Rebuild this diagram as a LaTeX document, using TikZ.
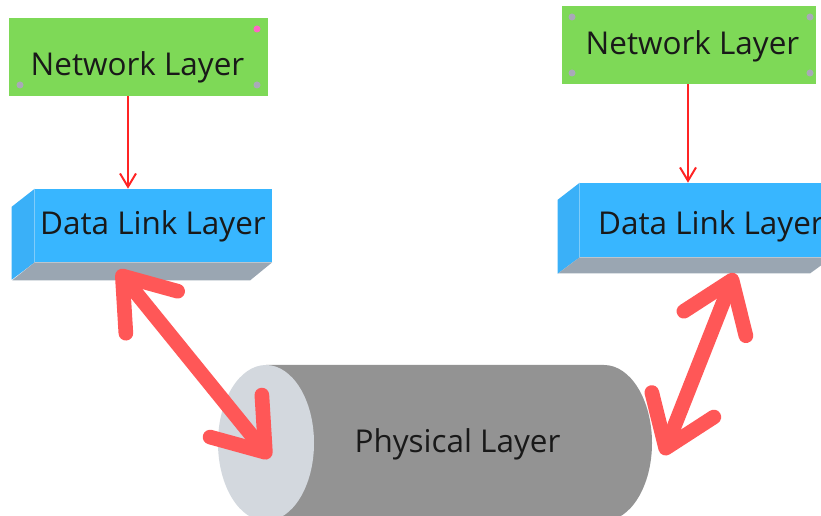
\documentclass[tikz,border=0pt]{standalone}
\usepackage{fontspec}
\setmainfont{Open Sans}
\usetikzlibrary{arrows.meta,calc}

\definecolor{netgreen}{HTML}{7ED957}
\definecolor{linkblue}{HTML}{38B6FF}
\definecolor{linkside}{HTML}{3AB0F8}
\definecolor{linkbottom}{HTML}{9AA6B2}
\definecolor{cylbody}{HTML}{939393}
\definecolor{cylcap}{HTML}{D3D8DE}
\definecolor{bigred}{HTML}{FF5757}
\definecolor{thinred}{HTML}{FF2424}
\definecolor{handle}{HTML}{A9A9B8}
\definecolor{handlepink}{HTML}{FF66C4}

\tikzset{
  netbox/.style={fill=netgreen,minimum height=58.5pt,inner sep=0pt},
  linkbox/.style={fill=linkblue,inner sep=0pt},
  layertext/.style={anchor=base,text=black!90,font=\fontsize{23.6}{28}\selectfont},
  thinarrow/.style={draw=thinred,line width=1.5pt,-{Straight Barb[length=10pt,width=12pt]}},
  bigarrow/.style={draw=bigred,line width=11pt,line cap=round,
    {Straight Barb[length=35pt,width=50pt,round]}-{Straight Barb[length=35pt,width=50pt,round]}}
}

\begin{document}
\begin{tikzpicture}[x=0.75pt,y=0.75pt]
  \useasboundingbox (0,0) rectangle (821,-516);
  \clip (0,0) rectangle (821,-516);

  % Network layers
  \node[netbox,minimum width=194.25pt] (netL) at (138.5,-57) {};
  \node[netbox,minimum width=190.5pt] (netR) at (689,-45) {};

  \fill[handlepink] (257,-29) circle (3.5);
  \fill[handle] (20,-85) circle (3.5);
  \fill[handle] (257,-85) circle (3.5);
  \fill[handle] (572,-17) circle (3.5);
  \fill[handle] (810,-17) circle (3.5);
  \fill[handle] (572,-73) circle (3.5);
  \fill[handle] (810,-73) circle (3.5);

  \node[layertext] (netLtext) at (137.5,-76) {Network Layer};
  \node[layertext] (netRtext) at (692.5,-55) {Network Layer};

  % Data link layers
  \node[linkbox,minimum width=177.75pt,minimum height=54.75pt] (dllL) at (153.5,-225.5) {};
  \fill[linkside] (dllL.north west) -- ++(-23,-18) -- ++(0,-73) -- (dllL.south west) -- cycle;
  \fill[linkbottom] (dllL.south west) -- (dllL.south east) -- ++(-22,-18) -- ++(-238,0) -- cycle;

  \node[linkbox,minimum width=189pt,minimum height=55.5pt] (dllR) at (706,-220) {};
  \fill[linkside] (dllR.north west) -- ++(-22,-17) -- ++(0,-74) -- (dllR.south west) -- cycle;
  \fill[linkbottom] (dllR.south west) -- (dllR.south east) -- ++(-22,-16) -- ++(-252,0) -- cycle;

  \node[layertext] (dllLtext) at (153,-235) {Data Link Layer};
  \node[layertext] (dllRtext) at (711,-235) {Data Link Layer};

  \draw[thinarrow] ($(netL.south)+(-10.5,0)$) -- ($(dllL.north)+(-25.5,0)$);
  \draw[thinarrow] ($(netR.south)+(-1,0)$) -- ($(dllR.north)+(-18,0)$);

  % Physical layer
  \coordinate (capL) at (266,-443);
  \coordinate (capR) at (604,-443);
  \fill[cylbody] ($(capL)+(0,78)$) -- ($(capR)+(0,78)$)
    arc[start angle=90,end angle=-90,x radius=48,y radius=78] -- ($(capL)+(0,-78)$) -- cycle;
  \fill[cylcap] (capL) ellipse [x radius=48,y radius=78];

  \node[layertext] (phystext) at (457.5,-452) {Physical Layer};

  \draw[bigarrow] ($(dllL.south west)+(83,-8)$) -- ($(capL)+(4,-15)$);
  \draw[bigarrow] ($(dllR.south west)+(155,-16)$) -- ($(capR)+(59,-12)$);

\end{tikzpicture}
\end{document}
